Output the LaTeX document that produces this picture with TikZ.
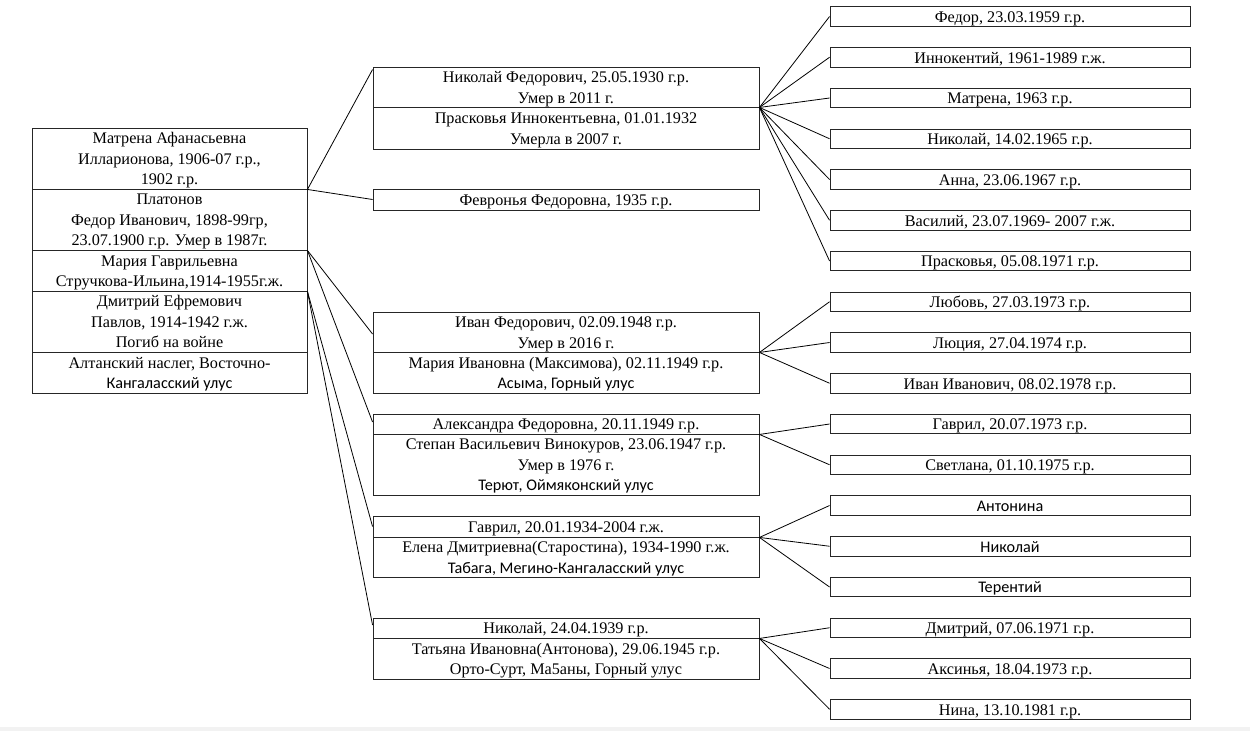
\documentclass[tikz,border=0pt]{standalone}
\usepackage{fontspec}
\setmainfont{Liberation Serif}
\newfontfamily\calfont{Carlito}
\renewcommand\arraystretch{1.015}
\newcommand\ml[1]{\raisebox{-6.05pt}[0pt][0pt]{\begin{tabular}{@{}c@{}}#1\end{tabular}}}
\begin{document}
\begin{tikzpicture}[x=1pt,y=-1pt,
  box/.style={draw=black!85, line width=0.9pt, inner sep=0pt,
              font=\fontsize{16.2}{20.3}\selectfont},
  lbox/.style={box, minimum width=275pt, minimum height=#1},
  mbox/.style={box, minimum width=386pt, minimum height=#1},
  rbox/.style={box, minimum width=360pt, minimum height=19.5pt},
  conn/.style={draw=black, line width=0.8pt}]
\fill[white] (0,0) rectangle (1250,731);
\useasboundingbox (0,0) rectangle (1250,731);
\fill[black!5] (0,727) rectangle (1250,731);

% left column
\node[lbox=61pt] (L1) at (169.5,158.5) {\ml{Матрена Афанасьевна\\Илларионова, 1906-07 г.р.,\\1902 г.р.}};
\node[lbox=61pt] (L2) at (169.5,219.5) {\ml{Платонов\\Федор Иванович, 1898-99гр,\\23.07.1900 г.р. Умер в 1987г.}};
\node[lbox=41pt] (L3) at (169.5,270.5) {\ml{Мария Гаврильевна\\Стручкова-Ильина,1914-1955г.ж.}};
\node[lbox=61pt] (L4) at (169.5,321.5) {\ml{Дмитрий Ефремович\\Павлов, 1914-1942 г.ж.\\Погиб на войне}};
\node[lbox=41pt] (L5) at (169.5,372.5) {\ml{Алтанский наслег, Восточно-\\{\calfont Кангаласский улус}}};

% middle column
\node[mbox=40pt] (M1a) at (566,87) {\ml{Николай Федорович, 25.05.1930 г.р.\\Умер в 2011 г.}};
\node[mbox=42pt] (M1b) at (566,128) {\ml{Прасковья Иннокентьевна, 01.01.1932\\Умерла в 2007 г.}};
\node[mbox=21pt] (M2) at (566,199.5) {\ml{Февронья Федоровна, 1935 г.р.}};
\node[mbox=40pt] (M3a) at (566,332) {\ml{Иван Федорович, 02.09.1948 г.р.\\Умер в 2016 г.}};
\node[mbox=41pt] (M3b) at (566,372.5) {\ml{Мария Ивановна (Максимова), 02.11.1949 г.р.\\{\calfont Асыма, Горный улус}}};
\node[mbox=20pt] (M4a) at (566,424) {\ml{Александра Федоровна, 20.11.1949 г.р.}};
\node[mbox=61pt] (M4b) at (566,464.5) {\ml{Степан Васильевич Винокуров, 23.06.1947 г.р.\\Умер в 1976 г.\\{\calfont Терют, Оймяконский улус}}};
\node[mbox=21pt] (M5a) at (566,526.5) {\ml{Гаврил, 20.01.1934-2004 г.ж.}};
\node[mbox=40pt] (M5b) at (566,557) {\ml{Елена Дмитриевна(Старостина), 1934-1990 г.ж.\\{\calfont Табага, Мегино-Кангаласский улус}}};
\node[mbox=20pt] (M6a) at (566,628) {\ml{Николай, 24.04.1939 г.р.}};
\node[mbox=41pt] (M6b) at (566,658.5) {\ml{Татьяна Ивановна(Антонова), 29.06.1945 г.р.\\Орто-Сурт, Ма5аны, Горный улус}};

% right column
\node[rbox] (R1)  at (1010,16.5)   {\ml{Федор, 23.03.1959 г.р.}};
\node[rbox] (R2)  at (1010,57.25)  {\ml{Иннокентий, 1961-1989 г.ж.}};
\node[rbox] (R3)  at (1010,98)     {\ml{Матрена, 1963 г.р.}};
\node[rbox] (R4)  at (1010,138.75) {\ml{Николай, 14.02.1965 г.р.}};
\node[rbox] (R5)  at (1010,179.5)  {\ml{Анна, 23.06.1967 г.р.}};
\node[rbox] (R6)  at (1010,220.25) {\ml{Василий, 23.07.1969- 2007 г.ж.}};
\node[rbox] (R7)  at (1010,261)    {\ml{Прасковья, 05.08.1971 г.р.}};
\node[rbox] (R8)  at (1010,301.75) {\ml{Любовь, 27.03.1973 г.р.}};
\node[rbox] (R9)  at (1010,342.5)  {\ml{Люция, 27.04.1974 г.р.}};
\node[rbox] (R10) at (1010,383.25) {\ml{Иван Иванович, 08.02.1978 г.р.}};
\node[rbox] (R11) at (1010,424)    {\ml{Гаврил, 20.07.1973 г.р.}};
\node[rbox] (R12) at (1010,464.75) {\ml{Светлана, 01.10.1975 г.р.}};
\node[rbox] (R13) at (1010,505.5)  {\ml{\calfont Антонина}};
\node[rbox] (R14) at (1010,546.25) {\ml{\calfont Николай}};
\node[rbox] (R15) at (1010,587)    {\ml{\calfont Терентий}};
\node[rbox] (R16) at (1010,627.75) {\ml{Дмитрий, 07.06.1971 г.р.}};
\node[rbox] (R17) at (1010,668.5)  {\ml{Аксинья, 18.04.1973 г.р.}};
\node[rbox] (R18) at (1010,709.25) {\ml{Нина, 13.10.1981 г.р.}};

% left connectors
\draw[conn] (L1.south east) -- ([yshift=-3pt]M1a.north west);
\draw[conn] (L1.south east) -- (M2.west);
\draw[conn] (L2.south east) -- ([yshift=-2pt]M3a.west);
\draw[conn] (L2.south east) -- ([yshift=2pt]M4a.west);
\draw[conn] (L3.south east) -- (M5a.west);
\draw[conn] (L3.south east) -- ([yshift=3pt]M6a.west);

% right connectors
\foreach \c in {R1,R2,R3,R4,R5,R6,R7} \draw[conn] (M1a.south east) -- (\c.west);
\foreach \c in {R8,R9,R10} \draw[conn] (M3a.south east) -- (\c.west);
\foreach \c in {R11,R12} \draw[conn] (M4a.south east) -- (\c.west);
\foreach \c in {R13,R14,R15} \draw[conn] (M5a.south east) -- (\c.west);
\foreach \c in {R16,R17,R18} \draw[conn] (M6a.south east) -- (\c.west);
\end{tikzpicture}
\end{document}
